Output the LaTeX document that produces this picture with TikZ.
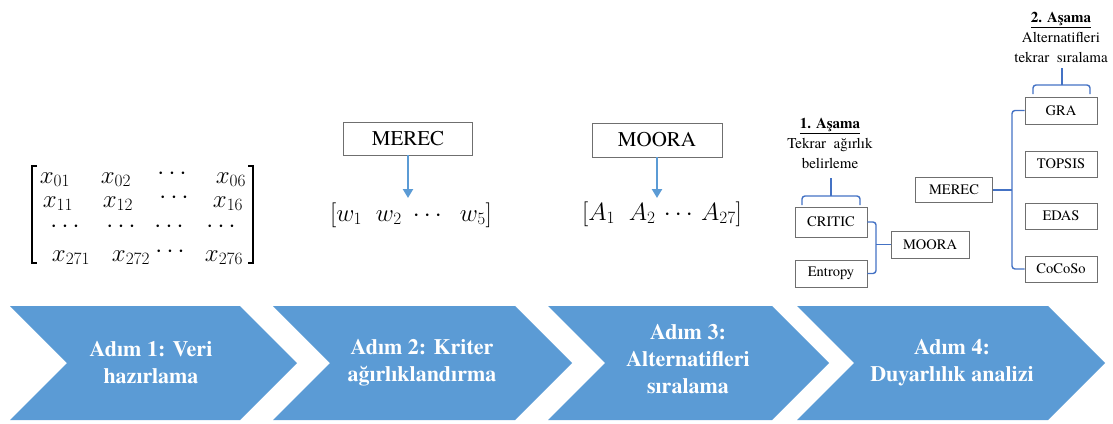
\documentclass[tikz,border=0pt]{standalone}
\usepackage{fontspec}
\setmainfont{texgyretermes}[Extension=.otf,UprightFont=*-regular,BoldFont=*-bold,ItalicFont=*-italic,BoldItalicFont=*-bolditalic]
\usetikzlibrary{arrows.meta}
\definecolor{chev}{HTML}{5B9BD5}
\definecolor{brk}{HTML}{4472C4}
\definecolor{boxline}{HTML}{6F6F6F}
\begin{document}
\begin{tikzpicture}[x=1pt,y=-1pt,
  chevtext/.style={text=white,font=\fontsize{22}{27}\selectfont\bfseries,align=center},
  bigbox/.style={draw=boxline,line width=0.8pt,fill=white,inner sep=0pt,font=\fontsize{21}{24}\selectfont},
  smallbox/.style={draw=boxline,line width=0.8pt,fill=white,inner sep=0pt,minimum width=72pt,font=\fontsize{14.5}{17}\selectfont},
  mat/.style={font=\fontsize{24}{28}\selectfont,inner sep=0pt,anchor=base},
  vec/.style={font=\fontsize{24}{28}\selectfont,inner sep=0pt},
  down/.style={draw=chev,line width=2.4pt,-{Triangle[width=10pt,length=9pt]}},
  conn/.style={draw=brk,line width=1.4pt,rounded corners=3pt},
  stage/.style={align=center,font=\fontsize{15}{20}\selectfont},
  bracket/.style={line width=1.1pt}]
\useasboundingbox (0,0) rectangle (1113,423);
% chevrons
\fill[chev] (10,306) -- (240,306) -- (297,363) -- (240,420) -- (10,420) -- (67,363) -- cycle;
\fill[chev] (273,306) -- (515,306) -- (572,363) -- (515,420) -- (273,420) -- (330,363) -- cycle;
\fill[chev] (548,306) -- (772,306) -- (829,363) -- (772,420) -- (548,420) -- (605,363) -- cycle;
\fill[chev] (797,306) -- (1048,306) -- (1105,363) -- (1048,420) -- (797,420) -- (854,363) -- cycle;
\node[chevtext] (t1) at (151,363) {Adım 1: Veri\\hazırlama};
\node[chevtext] (t2) at (422,363) {Adım 2: Kriter\\ağırlıklandırma};
\node[chevtext] (t3) at (688,359) {Adım 3:\\Alternatifleri\\sıralama};
\node[chevtext] (t4) at (952,363) {Adım 4:\\Duyarlılık analizi};
% matrix
\draw[bracket] (37,166) -- (32,166) -- (32,263) -- (37,263);
\draw[bracket] (248,166) -- (253,166) -- (253,263) -- (248,263);
\node[mat] (m01) at (55,183) {$x_{01}$};
\node[mat] (m02) at (116,183) {$x_{02}$};
\node[mat] (m0d) at (172,179) {$\cdots$};
\node[mat] (m06) at (231,183) {$x_{06}$};
\node[mat] (m11) at (58,207) {$x_{11}$};
\node[mat] (m12) at (118,207) {$x_{12}$};
\node[mat] (m1d) at (174,203) {$\cdots$};
\node[mat] (m16) at (228,207) {$x_{16}$};
\node[mat] (m2a) at (65,232) {$\cdots$};
\node[mat] (m2b) at (121,232) {$\cdots$};
\node[mat] (m2c) at (169,232) {$\cdots$};
\node[mat] (m2d) at (221,232) {$\cdots$};
\node[mat] (m271) at (71,261) {$x_{271}$};
\node[mat] (m272) at (131,261) {$x_{272}$};
\node[mat] (m27d) at (170,257) {$\cdots$};
\node[mat] (m276) at (224,261) {$x_{276}$};
% step 2
\node[bigbox,minimum width=129pt,minimum height=33pt] (merec2) at (408,138.5) {MEREC};
\node[vec] (wvec) at (411,215) {$[w_1\;\; w_2\;\cdots\;\; w_5]$};
\draw[down] (merec2.south) -- (408,198);
% step 3
\node[bigbox,minimum width=130pt,minimum height=34pt] (moora3) at (657,140) {MOORA};
\node[vec] (avec) at (662,214) {$[A_1\;\; A_2\,\cdots\, A_{27}]$};
\draw[down] (moora3.south) -- (657,198);
% step 4
\node[stage] (lab1) at (830,143) {\underline{\textbf{1. Aşama}}\\Tekrar\ \ ağırlık\\belirleme};
\node[stage] (lab2) at (1061,37) {\underline{\textbf{2. Aşama}}\\Alternatifleri\\tekrar\ \ sıralama};
\node[smallbox,minimum height=30pt] (critic) at (831,222) {CRITIC};
\node[smallbox,minimum height=27pt] (entropy) at (831,273.5) {Entropy};
\node[smallbox,minimum width=78pt,minimum height=27pt] (moora4) at (930,244.5) {MOORA};
\node[smallbox,minimum width=77pt,minimum height=25pt] (merec4) at (954,190) {MEREC};
\node[smallbox,minimum height=27pt] (gra) at (1061,110.5) {GRA};
\node[smallbox,minimum height=26pt] (topsis) at (1061,164) {TOPSIS};
\node[smallbox,minimum height=26pt] (edas) at (1061,216) {EDAS};
\node[smallbox,minimum height=26pt] (cocoso) at (1061,269) {CoCoSo};
% connectors step 4
\coordinate (j1) at (876,244.5);
\draw[conn] (critic.east) -| (j1) |- (entropy.east);
\draw[conn] (j1) -- (moora4.west);
\coordinate (j2) at (1012,190);
\draw[conn] (gra.west) -| (j2) |- (cocoso.west);
\draw[conn] (merec4.east) -- (j2);
% braces
\coordinate (b1l) at (802,205);
\coordinate (b1r) at (860,205);
\coordinate (b1m) at (831,196);
\coordinate (b1t) at (831,178);
\draw[conn] (b1l) |- (b1m) -| (b1r);
\draw[conn] (b1m) -- (b1t);
\coordinate (b2l) at (1033,94);
\coordinate (b2r) at (1090,94);
\coordinate (b2m) at (1062,85);
\coordinate (b2t) at (1062,68);
\draw[conn] (b2l) |- (b2m) -| (b2r);
\draw[conn] (b2m) -- (b2t);
\end{tikzpicture}
\end{document}
